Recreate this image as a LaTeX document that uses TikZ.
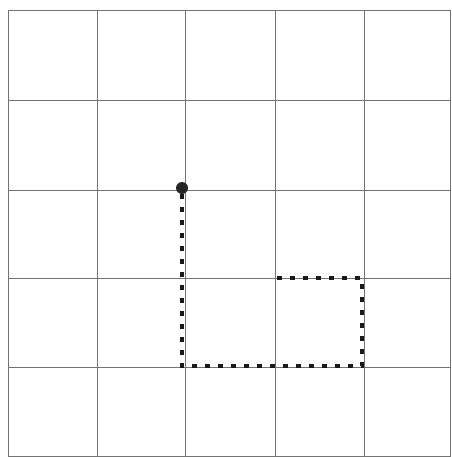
\documentclass[tikz,border=0pt]{standalone}
\begin{document}
\begin{tikzpicture}[x=1pt,y=-1pt,
  gridline/.style={draw=black!55,line width=0.8pt},
  dotpath/.style={draw=black!90,line width=4.6pt,dash pattern=on 4.6pt off 8.4pt},
  startdot/.style={circle,fill=black!85,inner sep=0pt,minimum size=12pt}]
\useasboundingbox (0,0) rectangle (451,457);
\foreach \x in {8,97,185,275,364,450}{\draw[gridline] (\x,10) -- (\x,457);}
\foreach \y in {10,100,190,278,367,456}{\draw[gridline] (8,\y) -- (451,\y);}
\node[startdot] (s) at (182,188) {};
\coordinate (a) at (182,366);
\coordinate (b) at (362,366);
\coordinate (c) at (362,278);
\coordinate (d) at (275,278);
\draw[dotpath] (s.south) -- (a) -- (b) -- (c) -- (d);
\end{tikzpicture}
\end{document}
